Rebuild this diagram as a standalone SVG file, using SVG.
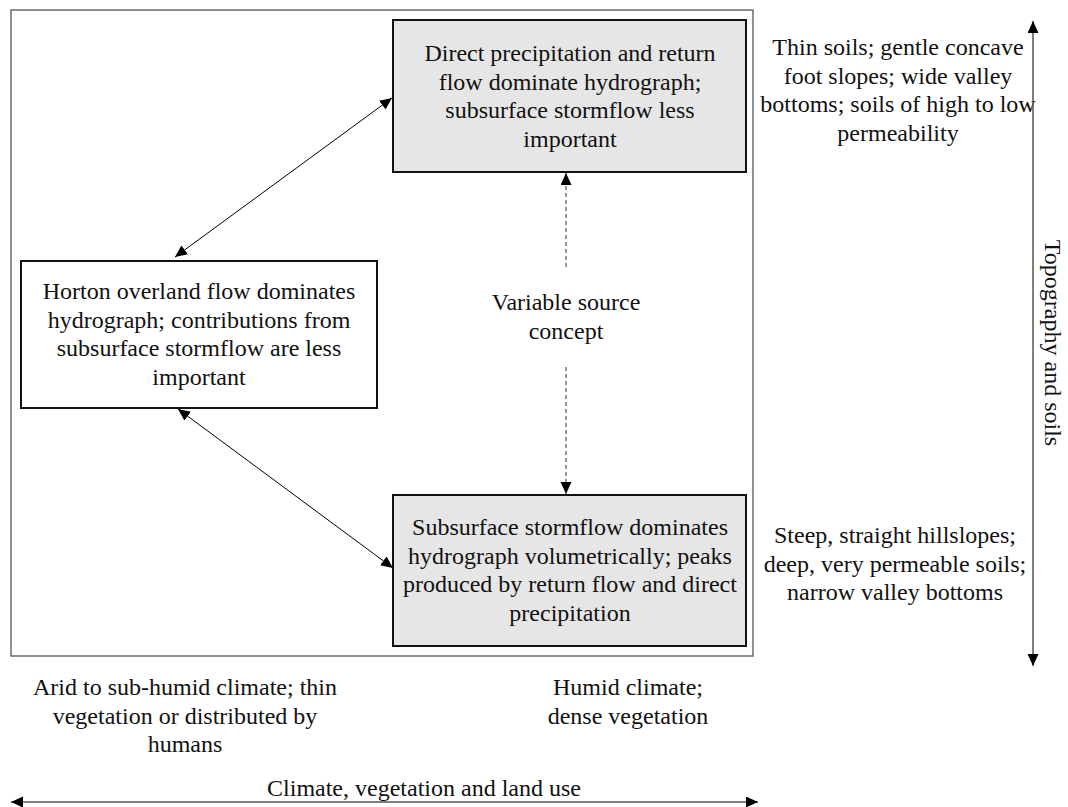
<svg xmlns="http://www.w3.org/2000/svg" width="1068" height="807" viewBox="0 0 1068 807">
<defs>
<marker id="ah" markerUnits="userSpaceOnUse" markerWidth="13" markerHeight="12" refX="12" refY="5.5" orient="auto-start-reverse"><path d="M0,0 L12,5.5 L0,11 z" fill="#000"/></marker>
<style>
text{font-family:"Liberation Serif","Times New Roman",serif;font-size:24px;fill:#111;text-anchor:middle}
.box{stroke:#111;stroke-width:2}
.shade{fill:#e6e6e6}
.plain{fill:#fff}
.conn{stroke:#000;stroke-width:1;fill:none}
.dash{stroke:#555;stroke-width:1.2;stroke-dasharray:4 3;fill:none}
.axis{stroke:#555;stroke-width:1.5;fill:none}
</style>
</defs>
<rect width="1068" height="807" fill="#fff"/>
<rect id="frame" x="11" y="10" width="742" height="646" fill="none" stroke="#555" stroke-width="1.3"/>
<g id="node-direct">
<rect class="box shade" x="393" y="20" width="353" height="152"/>
<text x="570" y="61">Direct precipitation and return</text>
<text x="570" y="89.7">flow dominate hydrograph;</text>
<text x="570" y="118.4">subsurface stormflow less</text>
<text x="570" y="147">important</text>
</g>
<g id="node-horton">
<rect class="box plain" x="21" y="261" width="356" height="147"/>
<text x="199" y="299">Horton overland flow dominates</text>
<text x="199" y="327.7">hydrograph; contributions from</text>
<text x="199" y="356.4">subsurface stormflow are less</text>
<text x="199" y="385">important</text>
</g>
<g id="node-subsurface">
<rect class="box shade" x="393" y="495" width="353" height="151"/>
<text x="570" y="535">Subsurface stormflow dominates</text>
<text x="570" y="563.7">hydrograph volumetrically; peaks</text>
<text x="570" y="592.4">produced by return flow and direct</text>
<text x="570" y="621">precipitation</text>
</g>
<g id="node-variable">
<text x="566" y="310">Variable source</text>
<text x="566" y="338.5">concept</text>
</g>
<g id="label-top-right">
<text x="898" y="55">Thin soils; gentle concave</text>
<text x="898" y="83.7">foot slopes; wide valley</text>
<text x="898" y="112.4">bottoms; soils of high to low</text>
<text x="898" y="141">permeability</text>
</g>
<g id="label-bottom-right">
<text x="895" y="543">Steep, straight hillslopes;</text>
<text x="895" y="571.7">deep, very permeable soils;</text>
<text x="895" y="600.4">narrow valley bottoms</text>
</g>
<g id="label-arid">
<text x="185" y="695">Arid to sub-humid climate; thin</text>
<text x="185" y="723.7">vegetation or distributed by</text>
<text x="185" y="752.4">humans</text>
</g>
<g id="label-humid">
<text x="628" y="695">Humid climate;</text>
<text x="628" y="723.7">dense vegetation</text>
</g>
<g id="label-axes">
<text x="424" y="796">Climate, vegetation and land use</text>
<text transform="translate(1045,343) rotate(90)" x="0" y="0">Topography and soils</text>
</g>
<g id="connectors">
<line class="conn" x1="175" y1="257" x2="392" y2="98" marker-start="url(#ah)" marker-end="url(#ah)"/>
<line class="conn" x1="178" y1="409" x2="393" y2="568" marker-start="url(#ah)" marker-end="url(#ah)"/>
<line class="dash" x1="566" y1="267" x2="566" y2="173" marker-end="url(#ah)"/>
<line class="dash" x1="566" y1="367" x2="566" y2="494" marker-end="url(#ah)"/>
<line class="axis" x1="1033" y1="666" x2="1033" y2="21" marker-start="url(#ah)" marker-end="url(#ah)"/>
<line class="axis" x1="11" y1="802" x2="758" y2="802" marker-start="url(#ah)" marker-end="url(#ah)"/>
</g>
</svg>
